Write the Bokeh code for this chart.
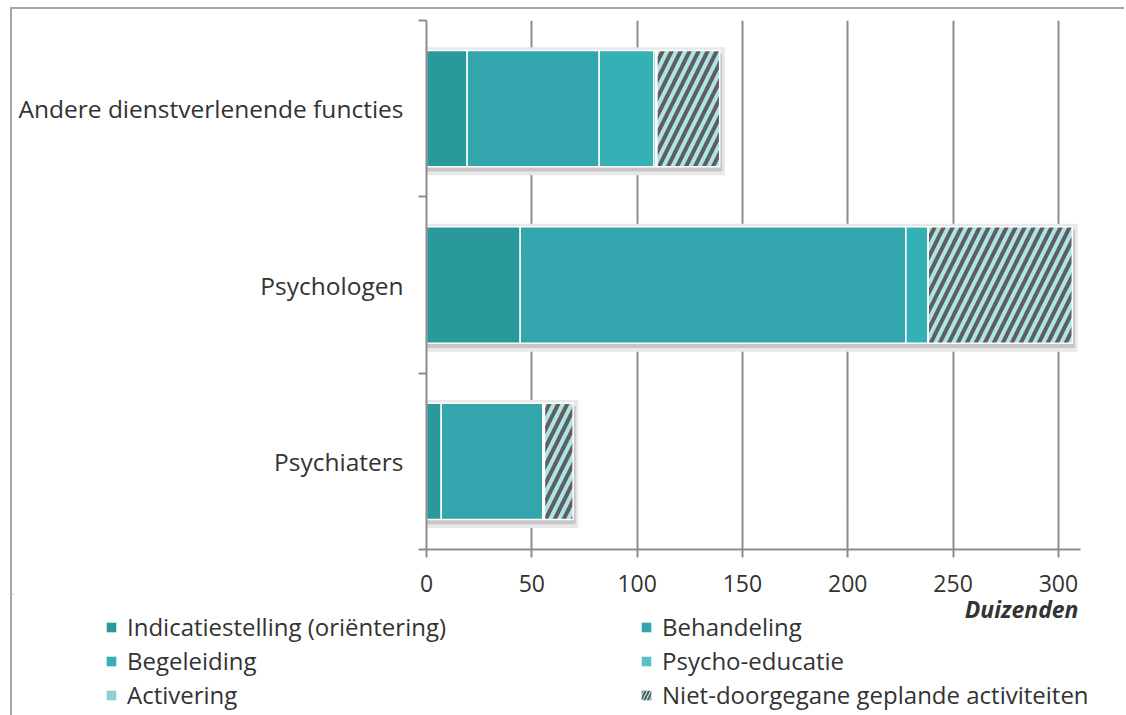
from bokeh.plotting import figure
from bokeh.models import FixedTicker, Legend, LegendItem, Label, ColumnDataSource, Range1d
from bokeh.embed import file_html
from bokeh.resources import INLINE
import numpy as np

categories = ["Psychiaters", "Psychologen", "Andere dienstverlenende functies"]
series_names = ["Indicatiestelling (oriëntering)", "Behandeling", "Begeleiding",
                "Psycho-educatie", "Activering", "Niet-doorgegane geplande activiteiten"]
indicatiestelling = [7.0, 44.5, 19.3]
behandeling = [48.2, 183.1, 62.7]
begeleiding = [0.5, 10.6, 25.9]
psycho_educatie = [0.3, 0.0, 1.0]
activering = [0.0, 0.0, 0.5]
niet_doorgegaan = [13.6, 68.4, 29.8]
x_ticks = [0, 50, 100, 150, 200, 250, 300]
x_unit = "Duizenden"

colors = ["#2a999b", "#32a5ad", "#35b0b5", "#5cbfc4", "#8bd0d2", "#ade4e6"]
hatches = [" ", " ", " ", " ", " ", "/"]
FONT = "Open Sans"
TXT = "#333333"
GRID = "#8c8c8c"
BORDER = "2px solid #a6a6a6"

ypos = np.arange(len(categories)) + 0.5
keys = ["s0", "s1", "s2", "s3", "s4", "s5"]
series = [indicatiestelling, behandeling, begeleiding, psycho_educatie, activering, niet_doorgegaan]
data = {"y": ypos}
for k, s in zip(keys, series):
    data[k] = s
src = ColumnDataSource(data)
totals = np.sum(np.array(series), axis=0)

W = 1114
p = figure(width=W, height=597, x_range=(0, 310.5), y_range=(0, 3),
           output_backend="svg", toolbar_location=None,
           min_border_left=414, min_border_right=46, min_border_top=11, min_border_bottom=57)
p.outline_line_color = None
p.background_fill_color = "white"
p.border_fill_color = "white"

# soft shadows behind the bars
p.hbar(y=ypos - 0.015, height=0.726, left=0, right=totals + 2.5,
       fill_color="#e8e8e8", line_color=None)
p.hbar(y=ypos - 0.022, height=0.67, left=0, right=totals + 1.2,
       fill_color="#c6c6c6", line_color=None)

rs = p.hbar_stack(keys, y="y", height=0.66, source=src,
                  fill_color=colors, line_color="white", line_width=1.5,
                  hatch_pattern=hatches, hatch_color="#5f5f5f",
                  hatch_scale=18, hatch_weight=4)

xa = p.xaxis[0]
xa.ticker = FixedTicker(ticks=x_ticks)
xa.axis_line_color = GRID
xa.axis_line_width = 2
xa.major_tick_line_color = GRID
xa.major_tick_line_width = 2
xa.major_tick_out = 8
xa.major_tick_in = 0
xa.minor_tick_line_color = None
xa.major_label_text_font = FONT
xa.major_label_text_font_size = "23px"
xa.major_label_text_color = TXT
xa.major_label_standoff = 17

ya = p.yaxis[0]
ya.ticker = FixedTicker(ticks=list(ypos), minor_ticks=list(np.arange(len(categories) + 1)))
ya.major_label_overrides = {float(v): c for v, c in zip(ypos, categories)}
ya.axis_line_color = GRID
ya.axis_line_width = 2
ya.major_tick_line_color = None
ya.major_tick_out = 0
ya.major_tick_in = 0
ya.minor_tick_line_color = GRID
ya.minor_tick_line_width = 2
ya.minor_tick_out = 8
ya.minor_tick_in = 0
ya.major_label_text_font = FONT
ya.major_label_text_font_size = "24.5px"
ya.major_label_text_color = TXT
ya.major_label_standoff = 15

p.xgrid.ticker = FixedTicker(ticks=x_ticks)
p.xgrid.grid_line_color = GRID
p.xgrid.grid_line_width = 2
p.ygrid.grid_line_color = None

# legend panel below the chart
LH = 121
q = figure(width=W, height=LH, x_range=Range1d(0, W), y_range=Range1d(LH, 0),
           output_backend="svg", toolbar_location=None,
           x_axis_type=None, y_axis_type=None,
           min_border_left=0, min_border_right=0, min_border_top=0, min_border_bottom=0)
q.outline_line_color = None
q.grid.grid_line_color = None
q.background_fill_alpha = 0
q.border_fill_alpha = 0

# legend proxies (kept outside the visible range)
proxies = []
for c, h in zip(colors, hatches):
    r = q.hbar(y=[-50], height=1, left=[0], right=[1], fill_color=c, line_color=None,
               hatch_pattern=h, hatch_color="#5f5f5f", hatch_scale=7, hatch_weight=2)
    proxies.append(r)

items = [LegendItem(label=n, renderers=[r]) for n, r in zip(series_names, proxies)]
leg = Legend(items=items, orientation="horizontal", ncols=2, location=(93, 4),
             glyph_width=12, glyph_height=12, label_standoff=10, label_width=512,
             label_height=28, spacing=1, padding=0, margin=0,
             border_line_color=None, background_fill_alpha=0,
             label_text_font=FONT, label_text_font_size="24px", label_text_color=TXT)
q.add_layout(leg, "center")

q.add_layout(Label(x=1066, y=14, text=x_unit, text_align="right", text_baseline="middle",
                   text_font=FONT, text_font_size="23px", text_font_style="bold italic",
                   text_color=TXT))

p.styles = {"position": "absolute", "left": "10px", "top": "7px",
            "border-left": BORDER, "border-top": BORDER}
q.styles = {"position": "absolute", "left": "10px", "top": "594px",
            "border-left": BORDER}

open("out.html", "w").write(file_html([p, q], INLINE))
